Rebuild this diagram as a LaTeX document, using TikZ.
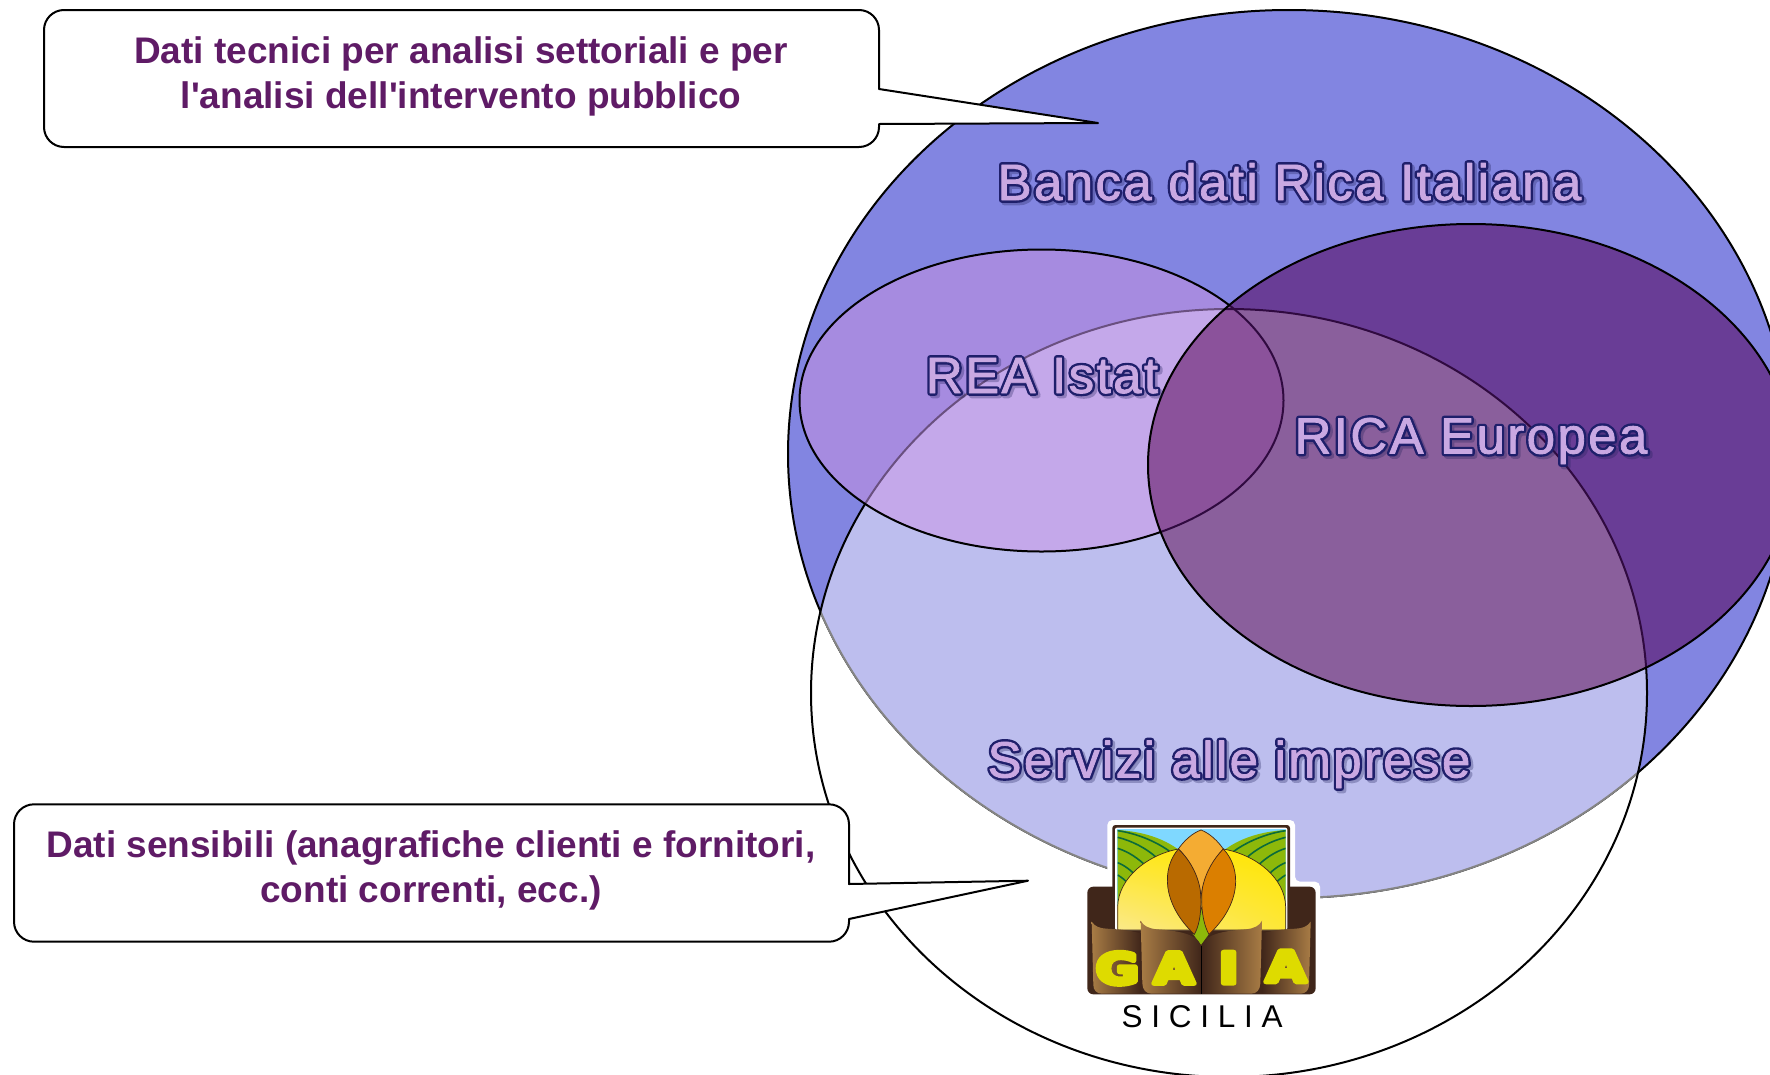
\documentclass[tikz,border=0pt]{standalone}
\usepackage{fontspec}
\usepackage{graphicx}
\usetikzlibrary{shadings}
\setmainfont{Liberation Sans}
\newfontfamily\calloutfont{Liberation Sans}
\newfontfamily\titlefont[LetterSpace=4.7]{Liberation Sans}
\newfontfamily\lgfont{DejaVu Sans}
\definecolor{cB}{HTML}{8285E1}
\definecolor{cW}{HTML}{BDBEEE}
\definecolor{cR}{HTML}{A68BE0}
\definecolor{cRW}{HTML}{C4A8EA}
\definecolor{cE}{HTML}{693D96}
\definecolor{cEW}{HTML}{8A5F9C}
\definecolor{cER}{HTML}{8B529B}
\definecolor{cEdge}{HTML}{858585}
\definecolor{cEdgeR}{HTML}{6A5080}
\definecolor{cEdgeE}{HTML}{300A40}
\definecolor{cCallout}{HTML}{5F1B66}
\definecolor{cTitle}{HTML}{C9A8E2}
\definecolor{cOutline}{HTML}{1F1F6B}
\definecolor{cShadow}{HTML}{20205A}
\definecolor{lgBrown}{HTML}{40261A}
\definecolor{lgTan}{HTML}{A87C45}
\definecolor{lgSky}{HTML}{7FD8FF}
\definecolor{lgGreen}{HTML}{8DB80A}
\definecolor{lgStripe}{HTML}{0B6B3A}
\definecolor{lgSun}{HTML}{FFE600}
\definecolor{lgPale}{HTML}{FBE98A}
\definecolor{lgOr}{HTML}{F4AC33}
\definecolor{lgLeafA}{HTML}{B96A00}
\definecolor{lgLeafB}{HTML}{DB7F00}
\definecolor{lgLetter}{HTML}{DEDB00}
\newcommand{\Bpath}{(1289,454) ellipse [x radius=501,y radius=444]}
\newcommand{\Wpath}{(1229,693) ellipse [x radius=418,y radius=384]}
\newcommand{\Rpath}{(1041.5,400.5) ellipse [x radius=242,y radius=151]}
\newcommand{\Epath}{(1471,465) ellipse [x radius=323,y radius=241]}
\newcommand{\strokedtext}[3]{\special{pdf:code 2 Tr #1 w 1 j #2 RG}#3\special{pdf:code 0 Tr 1 w 0 j}}
\newcommand{\titlefill}[1]{\titlefont\fontsize{51}{56}\selectfont\strokedtext{0.8}{0.788 0.659 0.886}{#1}}
\newcommand{\titlestroke}[1]{\titlefont\fontsize{51}{56}\selectfont\strokedtext{5.6}{0.12 0.12 0.42}{#1}}
\newcommand{\titleblur}[1]{\titlefont\fontsize{51}{56}\selectfont\strokedtext{5.6}{0.125 0.125 0.35}{#1}}
\tikzset{
  ring/.style={draw=black,line width=2pt},
  calloutbox/.style={draw=black,fill=white,line width=2pt,line join=round},
  callouttext/.style={text=cCallout,font=\calloutfont\bfseries\fontsize{37}{45}\selectfont,align=center,inner sep=0pt},
  titlelabel/.style={text=cTitle,inner sep=0pt,anchor=base},
  titleedge/.style={text=cOutline,inner sep=0pt,anchor=base},
  titleshadow/.style={text=cShadow,opacity=.3,inner sep=0pt,anchor=base},
  lgleaf/.style={draw=lgBrown,line width=.7pt},
  lgletter/.style={text=lgLetter,inner sep=0pt},
  lgstripe/.style={draw=lgStripe,line width=1.6pt}
}
\newcommand{\lgchar}[1]{\scalebox{1.22}[1]{\fontsize{43}{43}\lgfont\bfseries\selectfont\strokedtext{4.5}{0.87 0.86 0}{#1}}}
\newcommand{\fancytitle}[3]{%
  \node[titleshadow] (#1S) at ([shift={(2.5,2.5)}]#2) {\titleblur{#3}};
  \node[titleedge] (#1E) at (#2) {\titlestroke{#3}};
  \node[titlelabel] (#1) at (#2) {\titlefill{#3}};
}
\begin{document}
\begin{tikzpicture}[x=1pt,y=-1pt]
\useasboundingbox (0,0) rectangle (1770,1074);
\clip (0,0) rectangle (1770,1074);
\fill[white] (0,0) rectangle (1770,1074);
% big ellipse
\fill[cB] \Bpath;
\draw[ring] \Bpath;
% services ellipse
\begin{scope}\clip \Bpath; \fill[cW] \Wpath; \end{scope}
\begin{scope}\clip \Wpath; \draw[cEdge,line width=2pt] \Bpath; \end{scope}
\draw[ring] \Wpath;
% REA ellipse
\fill[cR] \Rpath;
\begin{scope}\clip \Rpath; \fill[cRW] \Wpath; \draw[cEdgeR,line width=2pt] \Wpath; \end{scope}
\draw[ring] \Rpath;
% RICA ellipse
\fill[cE] \Epath;
\begin{scope}\clip \Epath; \clip \Wpath; \fill[cEW] \Epath; \end{scope}
\begin{scope}\clip \Epath; \fill[cER] \Rpath;
  \draw[cEdgeE,line width=2pt] \Rpath; \draw[cEdgeE,line width=2pt] \Wpath; \end{scope}
\draw[ring] \Epath;
% titles
\fancytitle{banca}{1289.5,200}{Banca dati Rica Italiana}
\fancytitle{rea}{1042,393}{REA Istat}
\fancytitle{rica}{1471,453.5}{RICA Europea}
\fancytitle{serv}{1229,777.5}{Servizi alle imprese}
% callouts
\draw[calloutbox] (64,10) -- (859,10) arc[start angle=-90,end angle=0,radius=20] -- (879,89) -- (1098,123) -- (879,124) -- (879,127) arc[start angle=0,end angle=90,radius=20] -- (64,147) arc[start angle=90,end angle=180,radius=20] -- (44,30) arc[start angle=180,end angle=270,radius=20] -- cycle;
\node[callouttext] (c1) at (461,76.5) {Dati tecnici per analisi settoriali e per\\l'analisi dell'intervento pubblico};
\draw[calloutbox] (34,804.3) -- (829,804.3) arc[start angle=-90,end angle=0,radius=20] -- (849,884) -- (1028,880.7) -- (849,919) -- (849,921.7) arc[start angle=0,end angle=90,radius=20] -- (34,941.7) arc[start angle=90,end angle=180,radius=20] -- (14,824.3) arc[start angle=180,end angle=270,radius=20] -- cycle;
\node[callouttext] (c2) at (431,870.5) {Dati sensibili (anagrafiche clienti e fornitori,\\conti correnti, ecc.)};
% logo
\begin{scope}[shift={(1050pt,-800pt)},x=.33333pt,y=-.33333pt]
  \fill[white,rounded corners=5pt] (172,60) -- (735,60) -- (735,245) -- (810,245) -- (810,597) -- (100,597) -- (100,245) -- (172,245) -- cycle;
  \fill[lgBrown,rounded corners=6pt] (112,260) rectangle (797,583);
  \fill[lgBrown,rounded corners=3pt] (187,75) rectangle (720,320);
  \fill[white,rounded corners=2pt] (195,83) rectangle (712,390);
  \fill[lgSky] (200,88) rectangle (707,390);
  % hills
  \begin{scope}
    \clip (203,90) .. controls (280,95) and (340,115) .. (387,150) -- (387,390) -- (203,390) -- cycle;
    \fill[lgGreen] (200,88) rectangle (390,390);
    \draw[lgstripe] (203,92) .. controls (260,100) and (320,125) .. (360,155);
    \draw[lgstripe] (203,112) .. controls (245,122) and (290,145) .. (322,175);
    \draw[lgstripe] (203,145) .. controls (235,155) and (265,175) .. (290,200);
    \draw[lgstripe] (203,188) .. controls (222,195) and (245,212) .. (260,230);
    \draw[lgstripe] (203,225) .. controls (215,232) and (228,242) .. (238,255);
  \end{scope}
  \begin{scope}
    \clip (707,90) .. controls (630,95) and (570,115) .. (523,150) -- (523,390) -- (707,390) -- cycle;
    \fill[lgGreen] (520,88) rectangle (710,390);
    \draw[lgstripe] (707,92) .. controls (650,100) and (590,125) .. (550,155);
    \draw[lgstripe] (707,112) .. controls (665,122) and (620,145) .. (588,175);
    \draw[lgstripe] (707,145) .. controls (675,155) and (645,175) .. (620,200);
    \draw[lgstripe] (707,188) .. controls (688,195) and (665,212) .. (650,230);
    \draw[lgstripe] (707,225) .. controls (695,232) and (682,242) .. (672,255);
  \end{scope}
  % sun
  \shade[lower left=lgPale,upper left=lgSun!80!lgPale,lower right=lgSun!60!lgPale,upper right=lgSun,draw=lgBrown,line width=.7pt]
    (203,390) -- (203,320) .. controls (205,235) and (290,165) .. (385,147) -- (520,147) .. controls (620,165) and (705,235) .. (707,320) -- (707,390) -- cycle;
  \fill[lgOr,lgleaf] (453,90) .. controls (425,100) and (400,125) .. (385,147) .. controls (420,180) and (445,230) .. (453,290) .. controls (461,230) and (490,180) .. (520,147) .. controls (505,125) and (480,100) .. (453,90) -- cycle;
  \fill[lgGreen,lgleaf] (453,320) -- (428,403) -- (453,437) -- (478,403) -- cycle;
  \fill[lgLeafA,lgleaf] (385,147) .. controls (335,205) and (335,310) .. (433,403) .. controls (455,365) and (455,300) .. (450,265) .. controls (440,215) and (415,175) .. (385,147) -- cycle;
  \fill[lgLeafB,lgleaf] (520,147) .. controls (575,205) and (575,310) .. (477,403) .. controls (455,365) and (452,300) .. (457,265) .. controls (467,215) and (492,175) .. (520,147) -- cycle;
  % panels
  \shade[left color=lgTan,right color=lgBrown]
    (125,365) .. controls (135,380) and (150,385) .. (170,386) .. controls (210,388) and (245,392) .. (272,400) -- (272,581) -- (155,581) .. controls (140,581) and (130,570) .. (130,555) -- cycle;
  \shade[left color=lgTan,right color=lgBrown]
    (272,362) .. controls (280,378) and (295,385) .. (320,388) .. controls (380,392) and (440,400) .. (453,437) -- (453,581) -- (305,581) .. controls (288,581) and (278,570) .. (277,550) -- cycle;
  \shade[left color=lgBrown,right color=lgTan]
    (636,362) .. controls (628,378) and (613,385) .. (588,388) .. controls (528,392) and (468,400) .. (455,437) -- (455,581) -- (603,581) .. controls (620,581) and (630,570) .. (631,550) -- cycle;
  \shade[left color=lgBrown,right color=lgTan]
    (782,365) .. controls (772,380) and (757,385) .. (737,386) .. controls (697,388) and (662,392) .. (636,400) -- (636,581) -- (752,581) .. controls (767,581) and (777,570) .. (777,555) -- cycle;
  \draw[black,line width=.8pt] (454,437) -- (454,581);
  % lettering
  \node[lgletter] (lgG) at (202,505) {\lgchar{G}};
  \node[lgletter] (lgA) at (372,504) {\lgchar{A}};
  \node[lgletter] (lgI) at (536,503) {\lgchar{I}};
  \node[lgletter] (lgB) at (708,499) {\lgchar{A}};
\end{scope}
\node[inner sep=0pt,text=black,font=\fontsize{31.5}{36}\selectfont] (sicilia) at (1202.2,1017) {S I C I L I A};
\end{tikzpicture}
\end{document}
